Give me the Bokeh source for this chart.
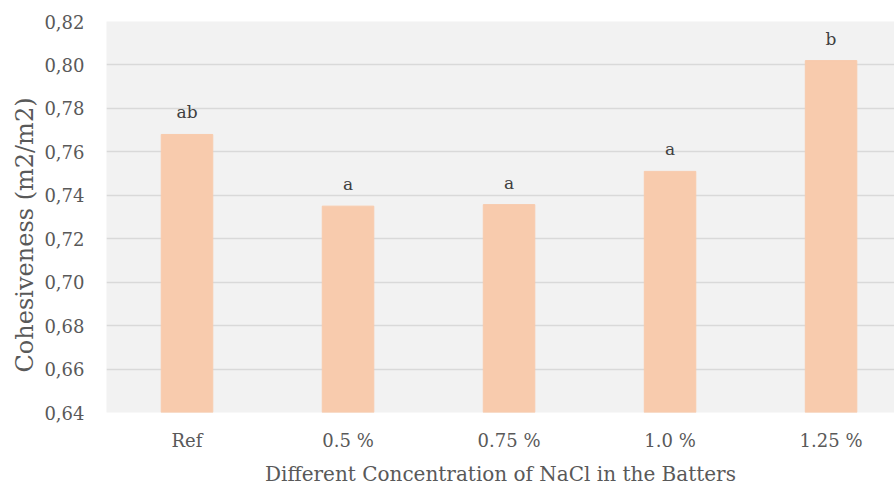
from bokeh.plotting import figure
from bokeh.models import FixedTicker, Range1d, ColumnDataSource, Title
from bokeh.embed import file_html
from bokeh.resources import INLINE
from bokeh.core.properties import value

categories = ["Ref", "0.5 %", "0.75 %", "1.0 %", "1.25 %"]
cohesiveness = [0.768, 0.735, 0.7357, 0.751, 0.802]
letters = ["ab", "a", "a", "a", "b"]
y_ticks = [0.64, 0.66, 0.68, 0.70, 0.72, 0.74, 0.76, 0.78, 0.80, 0.82]
y_tick_labels = ["0,64", "0,66", "0,68", "0,70", "0,72", "0,74", "0,76", "0,78", "0,80", "0,82"]
x_title = "Different Concentration of NaCl in the Batters"
y_title = "Cohesiveness (m2/m2)"

xpos = [i + 0.5 for i in range(len(categories))]
src = ColumnDataSource(dict(x=xpos, top=cohesiveness, label=letters))

FONT = "DejaVu Serif"
TXT = "#595959"

p = figure(width=894, height=488, output_backend="svg", toolbar_location=None,
           x_range=Range1d(0, 4.894), y_range=Range1d(0.64, 0.82),
           min_border_left=106, min_border_right=0, min_border_top=21, min_border_bottom=60)
p.outline_line_color = None
p.background_fill_color = "#f2f2f2"
p.border_fill_color = "white"

p.vbar(x="x", top="top", bottom=0.64, width=0.32, color="#f8cbad", source=src)
p.text(x="x", y="top", text="label", source=src, text_font=value(FONT), text_font_size="17px",
       text_color="#404040", text_align="center", text_baseline="bottom", y_offset=-12)

p.xgrid.visible = False
p.ygrid.grid_line_color = "#d9d9d9"
p.ygrid.grid_line_width = 1.5

p.yaxis.ticker = FixedTicker(ticks=y_ticks)
p.yaxis.major_label_overrides = {t: l for t, l in zip(y_ticks, y_tick_labels)}
p.xaxis.ticker = FixedTicker(ticks=xpos)
p.xaxis.major_label_overrides = {x: c for x, c in zip(xpos, categories)}

for ax in (p.xaxis[0], p.yaxis[0]):
    ax.axis_line_color = None
    ax.major_tick_line_color = None
    ax.minor_tick_line_color = None
    ax.major_label_text_font = FONT
    ax.major_label_text_font_size = "18px"
    ax.major_label_text_color = TXT
    ax.axis_label_text_font = FONT
    ax.axis_label_text_font_size = "20px"
    ax.axis_label_text_color = TXT
    ax.axis_label_text_font_style = "normal"

p.xaxis.axis_label = x_title
p.xaxis.major_label_standoff = 11
p.xaxis.axis_label_standoff = 8
p.yaxis.major_label_standoff = 16

ytitle = Title(text=y_title, align="left", offset=40, vertical_align="middle",
               text_font=FONT, text_font_size="24px", text_color=TXT,
               text_font_style="normal", standoff=4)
p.add_layout(ytitle, "left")

open("out.html", "w").write(file_html(p, INLINE))
